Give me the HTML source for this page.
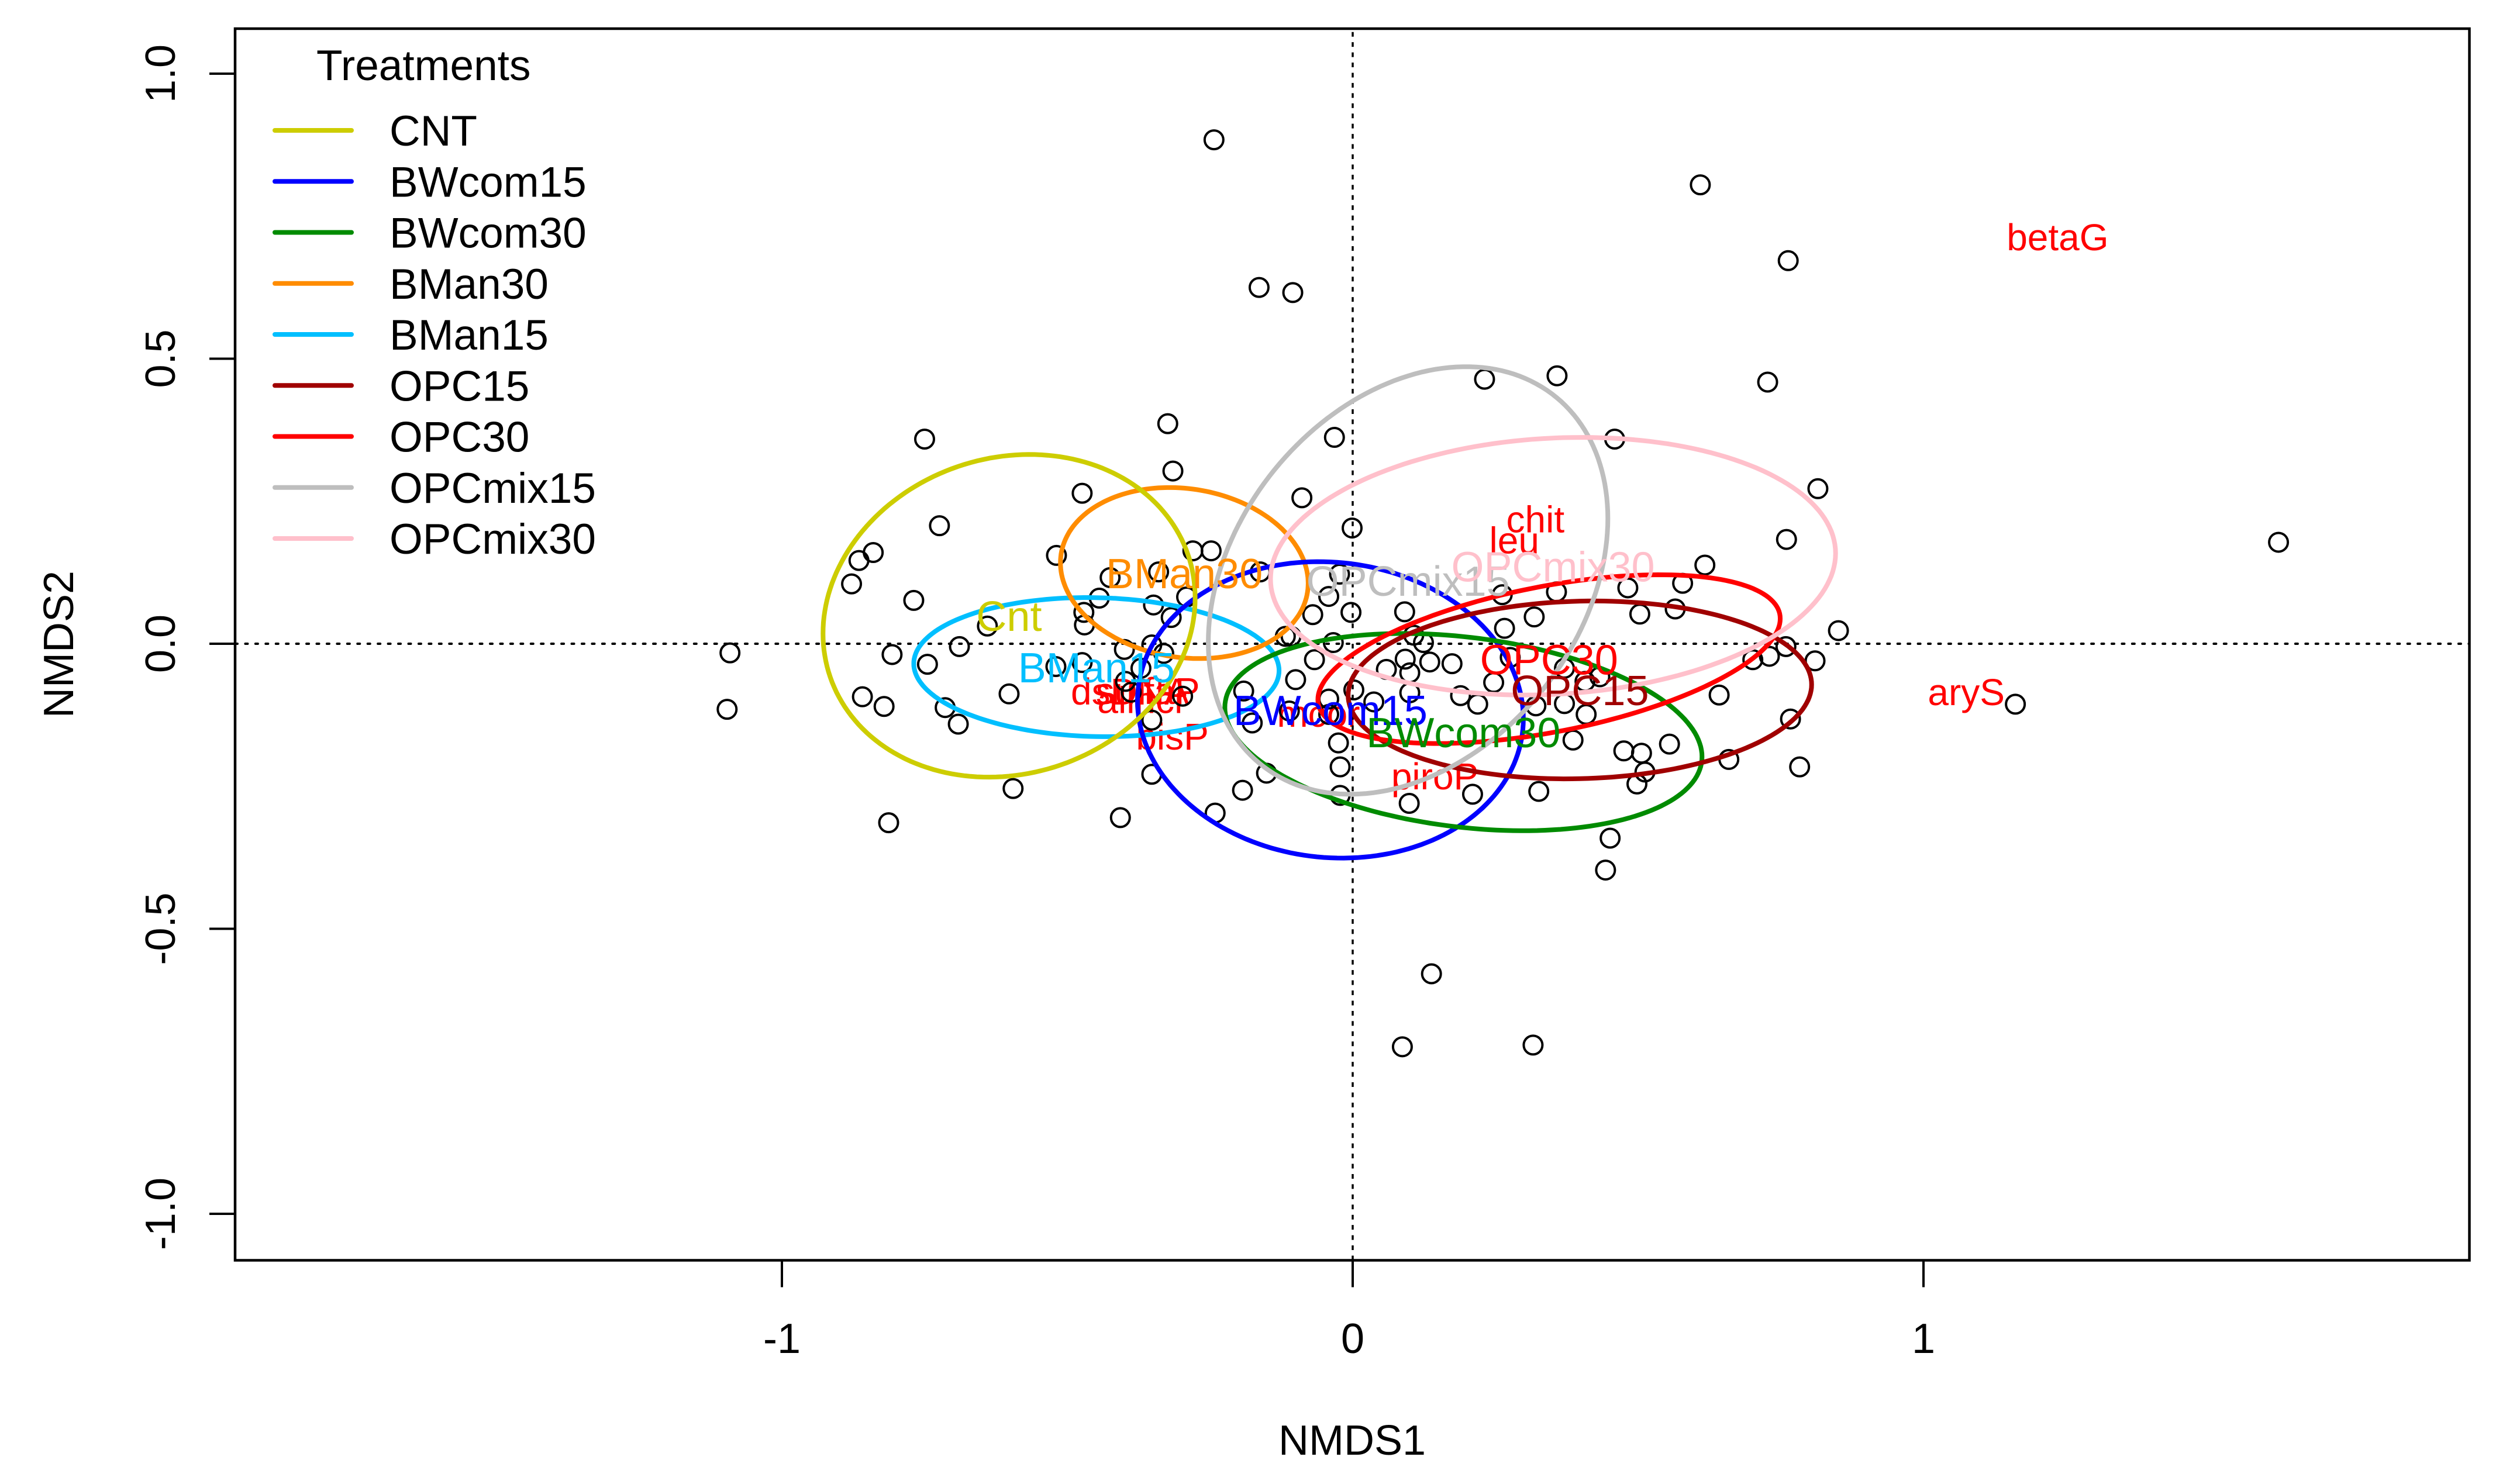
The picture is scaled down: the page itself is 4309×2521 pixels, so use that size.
<!DOCTYPE html>
<html lang="en">
<head>
<meta charset="utf-8">
<title>NMDS ordination by treatment</title>
<style>
html,body{margin:0;padding:0;background:#fff}
svg{display:block}
text{font-family:"Liberation Sans",Arial,sans-serif}
</style>
</head>
<body>
<svg id="chart" xmlns="http://www.w3.org/2000/svg" width="4309" height="2521" viewBox="0 0 4309 2521">
<rect x="0" y="0" width="4309" height="2521" fill="#ffffff"/>
</svg>
<script>
// ---- data ----
const nmds1 = [-0.750,-0.324,-0.315,-0.474,-0.724,-0.840,-0.865,-0.878,-0.769,-0.519,-0.280,-0.248,-0.425,-0.340,-0.162,-0.444,-0.471,-0.470,-0.349,-0.291,-0.318,-0.640,-0.689,-0.807,-1.091,-0.745,-0.400,-0.352,-0.331,-0.474,-0.520,-0.371,-0.398,-0.602,-0.388,-0.298,-0.859,-0.821,-1.096,-0.714,-0.691,-0.352,-0.191,-0.176,-0.352,-0.151,-0.193,-0.241,-0.595,-0.407,-0.813,-0.089,-0.001,-0.042,-0.023,-0.070,-0.003,0.091,0.262,0.357,0.482,0.617,0.578,0.760,0.503,0.565,0.318,0.266,0.815,-0.118,-0.108,-0.034,0.107,0.124,-0.067,0.092,0.135,0.174,0.059,0.100,0.276,-0.100,0.247,0.371,0.407,0.433,0.189,0.219,0.321,0.371,0.409,0.386,0.326,0.210,0.099,0.451,0.443,0.659,0.783,0.767,0.642,0.701,0.730,0.759,0.810,0.851,0.555,0.475,0.506,0.512,0.498,0.763,0.727,1.622,1.161,-0.243,-0.164,-0.105,0.609,0.358,0.231,0.459,-0.032,0.138,0.087,0.316,0.002,0.037,0.100,-0.042,-0.111,-0.042,-0.025,-0.022,-0.022];
const nmds2 = [0.359,0.386,0.303,0.264,0.207,0.160,0.146,0.105,0.076,0.155,0.163,0.163,0.116,0.126,0.126,0.080,0.055,0.033,0.068,0.082,0.046,0.031,-0.005,-0.019,-0.016,-0.036,-0.010,-0.002,-0.017,-0.033,-0.040,-0.043,-0.066,-0.088,-0.085,-0.092,-0.093,-0.110,-0.115,-0.112,-0.141,-0.134,-0.083,-0.139,-0.229,-0.227,-0.257,-0.297,-0.254,-0.305,-0.314,0.256,0.203,0.083,0.122,0.051,0.055,0.056,0.086,0.091,0.098,0.138,0.106,0.183,0.052,0.061,0.047,0.027,0.272,0.013,0.013,0.002,0.015,0.002,-0.028,-0.027,-0.032,-0.035,-0.045,-0.051,-0.024,-0.063,-0.068,-0.043,-0.066,-0.058,-0.091,-0.106,-0.109,-0.105,-0.124,-0.169,-0.259,-0.264,-0.280,-0.341,-0.397,-0.203,-0.216,-0.132,-0.090,-0.028,-0.022,-0.005,-0.030,0.023,-0.176,-0.188,-0.192,-0.225,-0.246,0.672,0.459,0.178,-0.106,0.884,0.625,0.616,0.805,0.470,0.464,0.359,0.362,-0.579,-0.707,-0.704,-0.081,-0.102,-0.086,-0.097,-0.118,-0.124,-0.174,-0.216,-0.266];

// treatment ellipses, in drawing order
const groupNames  = ["BMan15","BMan30","BWcom15","BWcom30","CNT","OPC15","OPC30","OPCmix15","OPCmix30"];
const groupLabels = ["BMan15","BMan30","BWcom15","BWcom30","Cnt","OPC15","OPC30","OPCmix15","OPCmix30"];
const groupColors = ["#00BFFF","#FF8C00","#0000FF","#008B00","#CDCD00","#A00000","#FF0000","#BEBEBE","#FFC0CB"];
const centerX     = [-0.449,-0.295,-0.039,0.194,-0.602,0.398,0.344,0.097,0.351];
const centerY     = [-0.041,0.124,-0.116,-0.155,0.049,-0.081,-0.027,0.111,0.136];
const spreadX     = [0.320,0.217,0.338,0.418,0.326,0.406,0.405,0.350,0.495];
const spreadY     = [0.122,0.150,0.260,0.173,0.283,0.156,0.148,0.375,0.226];
const correlation = [-0.05,-0.12,-0.06,-0.25,0.11,0.06,0.48,0.29,0.10];

// legend
const legendTitle = "Treatments";
const legendNames = ["CNT","BWcom15","BWcom30","BMan30","BMan15","OPC15","OPC30","OPCmix15","OPCmix30"];

// fitted variable labels
const envNames = ["dsDNA","sulfaP","allncr","bisP","mcor","piroP","leu","chit","aryS","betaG"];
const envX     = [-0.390,-0.359,-0.369,-0.316,-0.060,0.144,0.283,0.320,1.075,1.235];
const envY     = [-0.083,-0.082,-0.098,-0.162,-0.122,-0.232,0.182,0.219,-0.084,0.714];

// axes
const xTicks = [-1,0,1];
const xTickLabels = ["-1","0","1"];
const yTicks = [-1,-0.5,0,0.5,1];
const yTickLabels = ["-1.0","-0.5","0.0","0.5","1.0"];
const xTitle = "NMDS1";
const yTitle = "NMDS2";

// ---- scales ----
const plot = {left:402,right:4222.5,top:49,bottom:2155.5};
function sx(v){return 2313+v*976;}
function sy(v){return 1101-v*975;}

const svg = document.getElementById('chart');
const NS = 'http://www.w3.org/2000/svg';
function make(tag,attrs,text){
  const el=document.createElementNS(NS,tag);
  for(const k in attrs){el.setAttribute(k,attrs[k]);}
  if(text!==undefined){el.textContent=text;}
  svg.appendChild(el);
  return el;
}

// fitted variable labels sit underneath the points
envNames.forEach(function(name,i){
  const el=make('text',{x:sx(envX[i]),y:sy(envY[i])+23,'font-size':64,fill:'#FF0000','text-anchor':'middle'},name);
  
  
});

// reference lines
const hLine=make('line',{x1:plot.left,y1:sy(0),x2:plot.right,y2:sy(0),stroke:'#000','stroke-width':4,'stroke-dasharray':'4 13.44','stroke-linecap':'round'});


const vLine=make('line',{x1:sx(0),y1:plot.bottom,x2:sx(0),y2:plot.top,stroke:'#000','stroke-width':3.5,'stroke-dasharray':'8 9.44'});



// points
nmds1.forEach(function(v,i){
  const el=make('circle',{cx:sx(v),cy:sy(nmds2[i]),r:16,fill:'none',stroke:'#000','stroke-width':4});
  
  
});

// ellipses
groupNames.forEach(function(name,i){
  const r=correlation[i];
  const q=Math.sqrt(1-r*r);
  let d='';
  for(let k=0;k<=180;k++){
    const t=k/180*2*Math.PI;
    const dx=spreadX[i]*Math.cos(t);
    const dy=spreadY[i]*(r*Math.cos(t)+q*Math.sin(t));
    d+=(k?'L':'M')+sx(centerX[i]+dx).toFixed(1)+' '+sy(centerY[i]+dy).toFixed(1);
  }
  const el=make('path',{d:d+'Z',fill:'none',stroke:groupColors[i],'stroke-width':8});
  
  
});

// treatment labels at ellipse centres
groupNames.forEach(function(name,i){
  const el=make('text',{x:sx(centerX[i]),y:sy(centerY[i])+26,'font-size':72,fill:groupColors[i],'text-anchor':'middle'},groupLabels[i]);
  
  
});

// frame
const frame=make('rect',{x:plot.left,y:plot.top,width:plot.right-plot.left,height:plot.bottom-plot.top,fill:'none',stroke:'#000','stroke-width':4.5});



// x axis
xTicks.forEach(function(v,i){
  const tick=make('line',{x1:sx(v),y1:plot.bottom,x2:sx(v),y2:plot.bottom+46,stroke:'#000','stroke-width':4});
  
  
  const lab=make('text',{x:sx(v),y:2314,'font-size':72,fill:'#000','text-anchor':'middle'},xTickLabels[i]);
  
  
});
const xt=make('text',{x:2312,y:2488,'font-size':72,fill:'#000','text-anchor':'middle'},xTitle);



// y axis
yTicks.forEach(function(v,i){
  const tick=make('line',{x1:plot.left-44,y1:sy(v),x2:plot.left,y2:sy(v),stroke:'#000','stroke-width':4});
  
  
  const lab=make('text',{x:299,y:sy(v),'font-size':72,fill:'#000','text-anchor':'middle',transform:'rotate(-90 299 '+sy(v)+')'},yTickLabels[i]);
  
  
});
const yt=make('text',{x:125,y:1102,'font-size':72,fill:'#000','text-anchor':'middle',transform:'rotate(-90 125 1102)'},yTitle);



// legend
const lt=make('text',{x:541,y:137,'font-size':73,fill:'#000'},legendTitle);


legendNames.forEach(function(name,i){
  const y=223+i*87.25;
  const color=groupColors[groupNames.indexOf(name)];
  const ln=make('line',{x1:470,y1:y,x2:601,y2:y,stroke:color,'stroke-width':8,'stroke-linecap':'round'});
  
  
  const tx=make('text',{x:666,y:y+26,'font-size':73,fill:'#000'},name);
  
  
});
</script>
</body>
</html>
